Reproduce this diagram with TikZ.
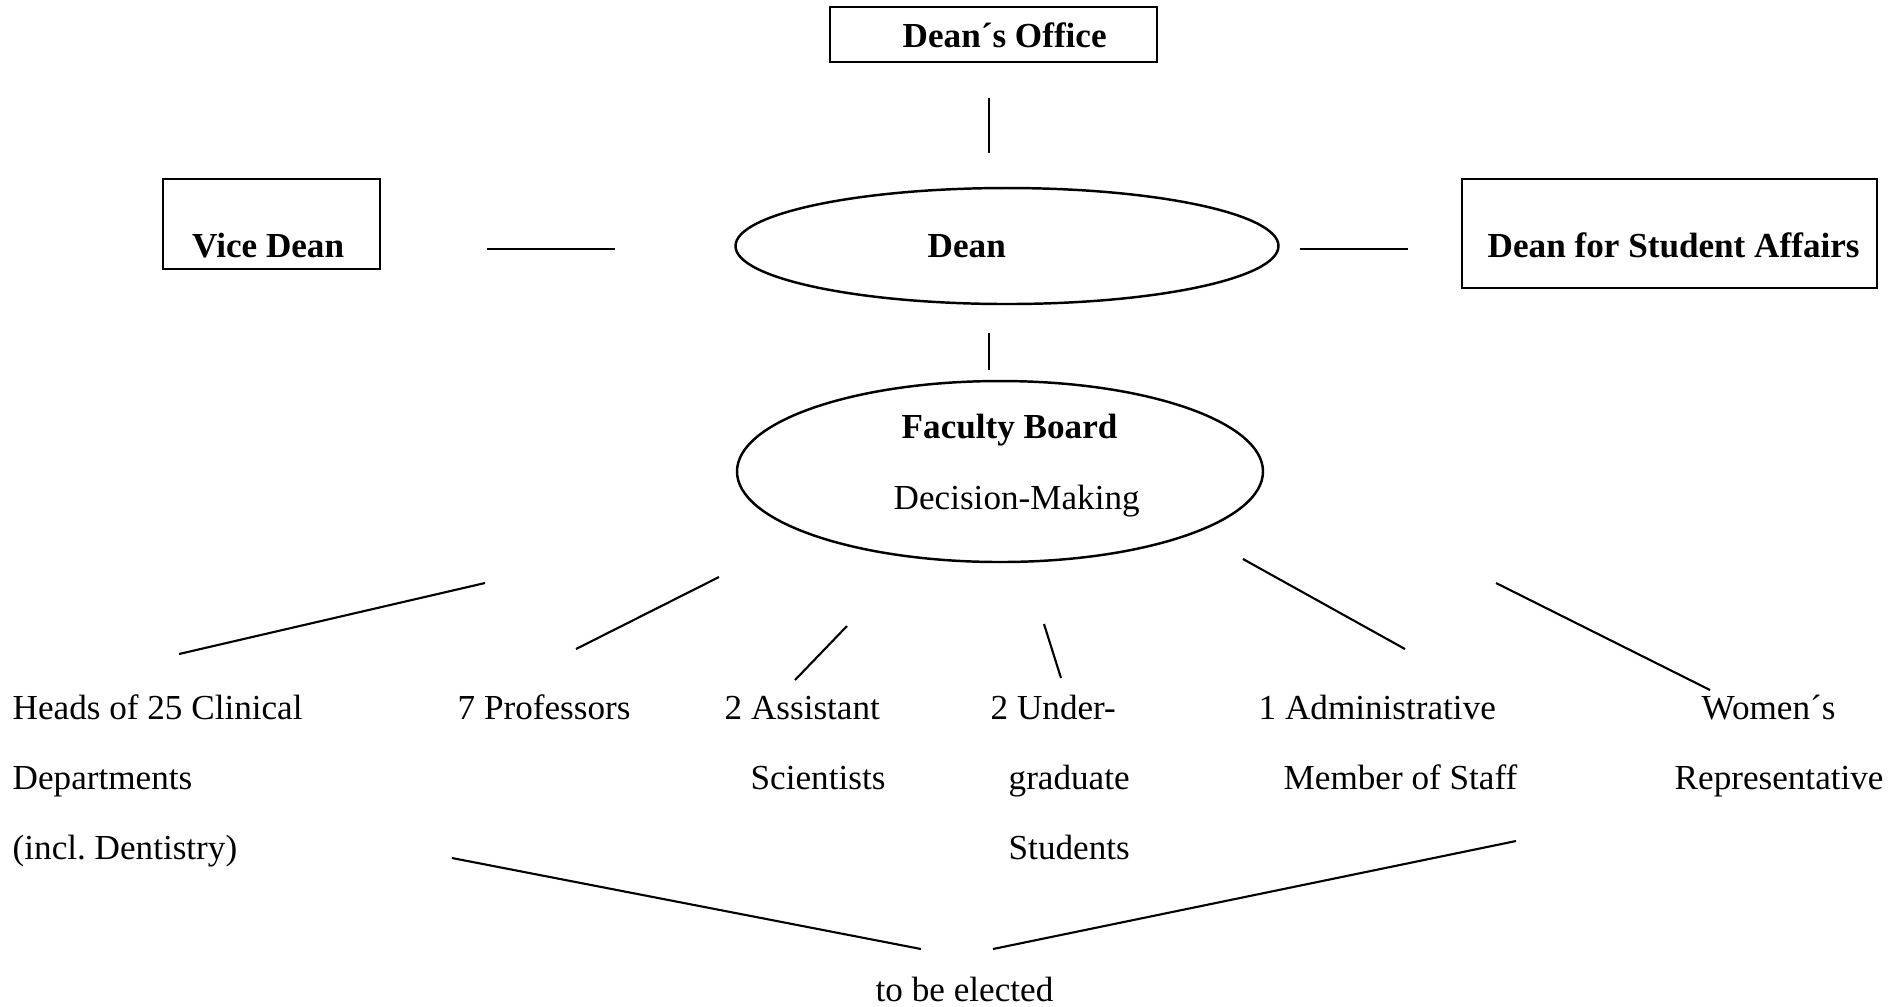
\documentclass[tikz,border=0pt]{standalone}
\usepackage{fontspec}
\setmainfont{Liberation Serif}
\usetikzlibrary{shapes.geometric}

\begin{document}
\begin{tikzpicture}[
  box/.style={draw,line width=0.8pt,inner sep=0pt},
  oval/.style={draw,ellipse,line width=0.7pt,inner sep=0pt},
  lbl/.style={anchor=base west,inner sep=0pt,font=\fontsize{10}{12}\selectfont},
  head/.style={lbl,font=\fontsize{10}{12}\selectfont\bfseries},
  link/.style={line width=0.6pt}
]
\useasboundingbox (0,0) rectangle (19.04,-10.06);

% frames
\node[box,minimum width=3.27cm,minimum height=0.55cm] (office) at (9.935,-0.345) {};
\node[box,minimum width=2.17cm,minimum height=0.90cm] (vice) at (2.715,-2.24) {};
\node[box,minimum width=4.15cm,minimum height=1.09cm] (dsa) at (16.695,-2.335) {};
\node[oval,minimum width=5.43cm,minimum height=1.16cm] (dean) at (10.07,-2.46) {};
\node[oval,minimum width=5.26cm,minimum height=1.81cm] (board) at (10.00,-4.715) {};

% texts
\node[head] (officetxt) at (9.02,-0.47) {Dean´s Office};
\node[head] (vicetxt) at (1.915,-2.57) {Vice Dean};
\node[head] (deantxt) at (9.27,-2.57) {Dean};
\node[head] (dsatxt) at (14.87,-2.57) {Dean for Student Affairs};
\node[head] (boardtxt) at (9.01,-4.38) {Faculty Board};
\node[lbl] (decide) at (8.93,-5.09) {Decision-Making};

\node[lbl] (heads1) at (0.12,-7.19) {Heads of 25 Clinical};
\node[lbl] (heads2) at (0.12,-7.89) {Departments};
\node[lbl] (heads3) at (0.12,-8.59) {(incl.\ Dentistry)};
\node[lbl] (prof) at (4.57,-7.19) {7 Professors};
\node[lbl] (assist1) at (7.24,-7.19) {2 Assistant};
\node[lbl] (assist2) at (7.50,-7.89) {Scientists};
\node[lbl] (under1) at (9.90,-7.19) {2 Under-};
\node[lbl] (under2) at (10.08,-7.89) {graduate};
\node[lbl] (under3) at (10.08,-8.59) {Students};
\node[lbl] (admin1) at (12.58,-7.19) {1 Administrative};
\node[lbl] (admin2) at (12.83,-7.89) {Member of Staff};
\node[lbl] (women1) at (17.01,-7.19) {Women´s};
\node[lbl] (women2) at (16.74,-7.89) {Representative};
\node[lbl] (elect) at (8.75,-10.01) {to be elected};

% line ends
\coordinate (o1) at (9.89,-0.98);
\coordinate (o2) at (9.89,-1.53);
\coordinate (v1) at (4.87,-2.49);
\coordinate (v2) at (6.15,-2.49);
\coordinate (s1) at (13.00,-2.49);
\coordinate (s2) at (14.08,-2.49);
\coordinate (d1) at (9.89,-3.33);
\coordinate (d2) at (9.89,-3.70);
\coordinate (h1) at (4.85,-5.83);
\coordinate (h2) at (1.79,-6.54);
\coordinate (p1) at (7.19,-5.77);
\coordinate (p2) at (5.76,-6.49);
\coordinate (a1) at (8.47,-6.26);
\coordinate (a2) at (7.95,-6.80);
\coordinate (u1) at (10.44,-6.24);
\coordinate (u2) at (10.61,-6.78);
\coordinate (m1) at (12.43,-5.59);
\coordinate (m2) at (14.05,-6.49);
\coordinate (w1) at (14.96,-5.83);
\coordinate (w2) at (17.10,-6.90);
\coordinate (e1) at (4.52,-8.58);
\coordinate (e2) at (9.21,-9.49);
\coordinate (e3) at (15.16,-8.41);
\coordinate (e4) at (9.93,-9.49);

\draw[link] (o1) -- (o2);
\draw[link] (v1) -- (v2);
\draw[link] (s1) -- (s2);
\draw[link] (d1) -- (d2);
\draw[link] (h1) -- (h2);
\draw[link] (p1) -- (p2);
\draw[link] (a1) -- (a2);
\draw[link] (u1) -- (u2);
\draw[link] (m1) -- (m2);
\draw[link] (w1) -- (w2);
\draw[link] (e1) -- (e2);
\draw[link] (e3) -- (e4);
\end{tikzpicture}
\end{document}
